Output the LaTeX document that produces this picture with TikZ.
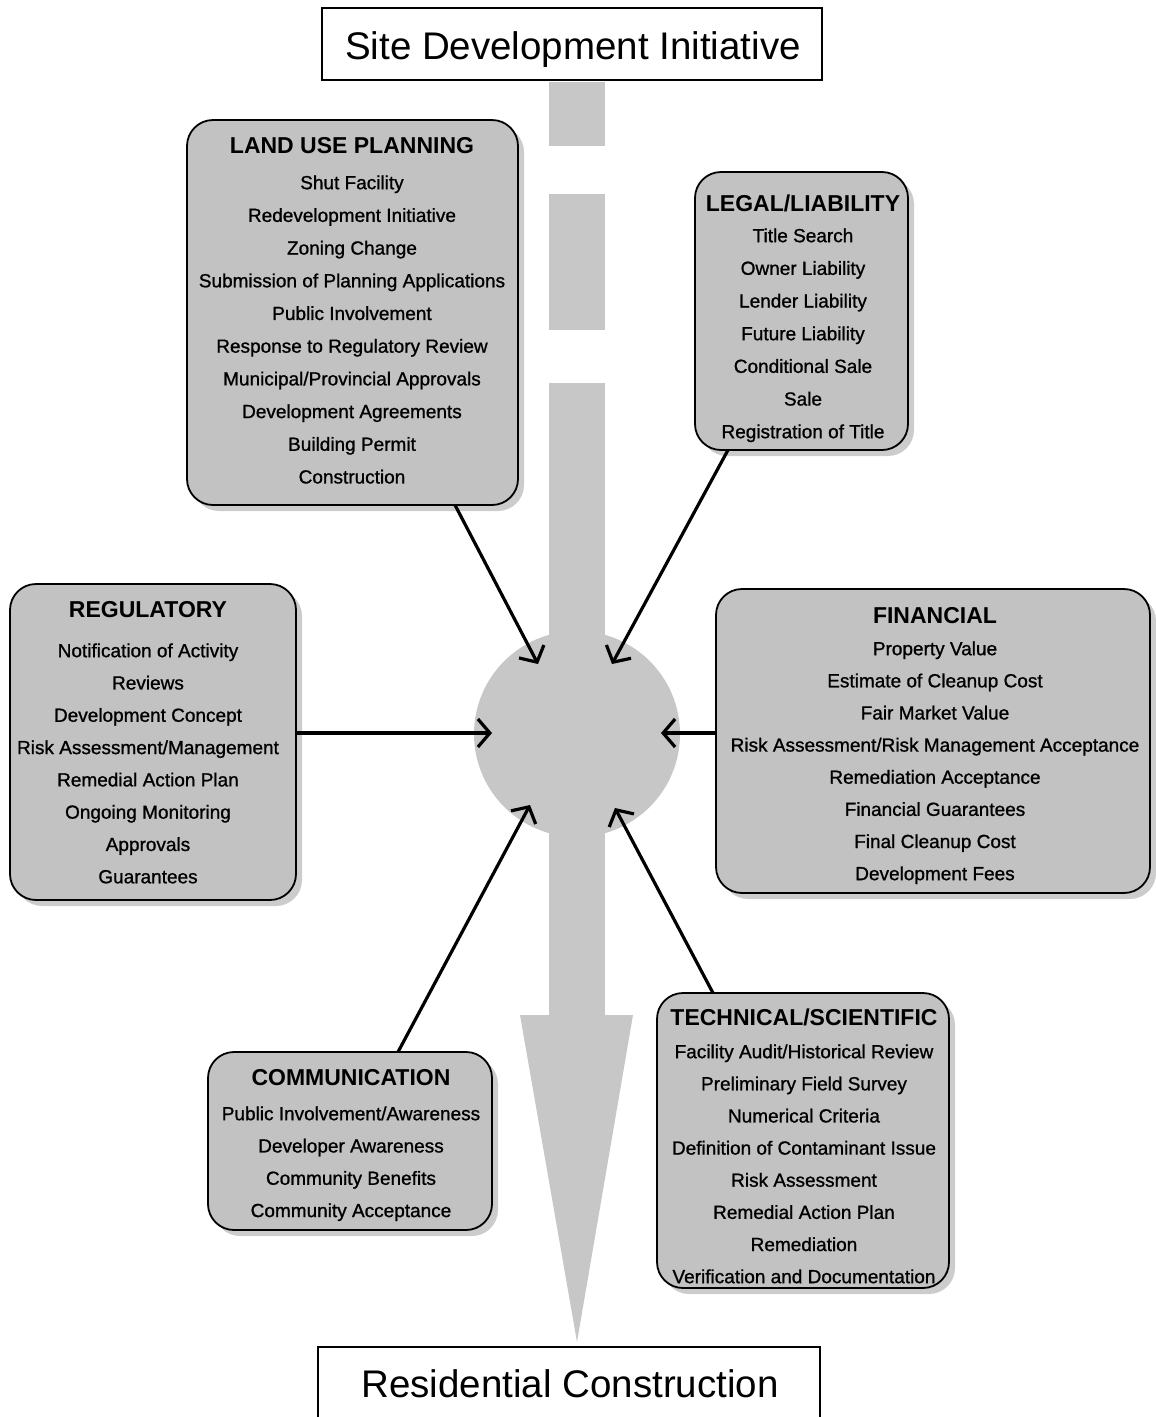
\documentclass[tikz,border=0pt]{standalone}
\usepackage{fontspec}
\setmainfont{Liberation Sans}
\newfontface\itemface{Liberation Sans}[FakeBold=1.0]
\usetikzlibrary{arrows.meta,calc}
\definecolor{boxgray}{gray}{0.76}
\definecolor{shadowgray}{gray}{0.80}
\definecolor{stemgray}{gray}{0.78}
\begin{document}
\begin{tikzpicture}[x=1pt,y=-1pt,
  panel/.style={draw=black,line width=1.8pt,fill=boxgray,rounded corners=26pt,inner sep=0pt},
  shadowbox/.style={fill=shadowgray,rounded corners=26pt},
  endbox/.style={draw=black,line width=2pt,fill=white},
  bigtext/.style={font=\fontsize{38.5}{40}\selectfont,inner sep=0pt,anchor=base},
  paneltitle/.style={font=\bfseries\fontsize{23}{26}\selectfont,inner sep=0pt,anchor=base},
  items/.style={align=center,inner sep=0pt,anchor=north,font=\itemface\fontsize{19}{#1}\selectfont},
  conn/.style={line width=3.2pt,-{Straight Barb[length=12pt,width=28pt]}},
  stemfill/.style={fill=stemgray}
]
\useasboundingbox (0,0) rectangle (1156,1417);

% central stem and hub
\fill[stemfill] (549,82) rectangle (605,146);
\fill[stemfill] (549,194) rectangle (605,330);
\fill[stemfill] (549,383) rectangle (605,1017);
\fill[stemfill] (520,1015) -- (633,1015) -- (577,1342) -- cycle;
\node[circle,fill=stemgray,minimum size=206pt,inner sep=0pt] (hub) at (577,734) {};

% end boxes
\node[endbox,minimum width=500pt,minimum height=72pt] (start) at (572,44) {};
\node[bigtext] (starttext) at (573,59) {Site Development Initiative};
\draw[endbox] (318,1430) |- (820,1347) -- (820,1430);
\node[bigtext] (endtext) at (570,1397) {Residential Construction};

% LAND USE PLANNING
\fill[shadowbox] (193,126) rectangle (524,511);
\node[panel,minimum width=331pt,minimum height=385pt] (land) at (352.5,312.5) {};
\node[paneltitle] (landtitle) at (352,153.2) {LAND USE PLANNING};
\node[items=32.7pt] (landitems) at (352,175.2) {Shut Facility\\Redevelopment Initiative\\Zoning Change\\Submission of Planning Applications\\Public Involvement\\Response to Regulatory Review\\Municipal/Provincial Approvals\\Development Agreements\\Building Permit\\Construction};

% LEGAL/LIABILITY
\fill[shadowbox] (701,178) rectangle (914,456);
\node[panel,minimum width=213pt,minimum height=278pt] (legal) at (801.5,311) {};
\node[paneltitle] (legaltitle) at (803,211.2) {LEGAL/LIABILITY};
\node[items=32.67pt] (legalitems) at (803,228.2) {Title Search\\Owner Liability\\Lender Liability\\Future Liability\\Conditional Sale\\Sale\\Registration of Title};

% REGULATORY
\fill[shadowbox] (16,590) rectangle (302,906);
\node[panel,minimum width=286pt,minimum height=316pt] (reg) at (153,742) {};
\node[paneltitle] (regtitle) at (148,617.2) {REGULATORY};
\node[items=32.3pt] (regitems) at (148,643.2) {Notification of Activity\\Reviews\\Development Concept\\Risk Assessment/Management\\Remedial Action Plan\\Ongoing Monitoring\\Approvals\\Guarantees};

% FINANCIAL
\fill[shadowbox] (722,595) rectangle (1156,899);
\node[panel,minimum width=434pt,minimum height=304pt] (fin) at (933,741) {};
\node[paneltitle] (fintitle) at (935,623.2) {FINANCIAL};
\node[items=32.14pt] (finitems) at (935,641.2) {Property Value\\Estimate of Cleanup Cost\\Fair Market Value\\Risk Assessment/Risk Management Acceptance\\Remediation Acceptance\\Financial Guarantees\\Final Cleanup Cost\\Development Fees};

% COMMUNICATION
\fill[shadowbox] (214,1058) rectangle (498,1236);
\node[panel,minimum width=284pt,minimum height=178pt] (comm) at (350,1141) {};
\node[paneltitle] (commtitle) at (351,1085.2) {COMMUNICATION};
\node[items=32.3pt] (commitems) at (351,1106.2) {Public Involvement/Awareness\\Developer Awareness\\Community Benefits\\Community Acceptance};

% TECHNICAL/SCIENTIFIC
\fill[shadowbox] (663,999) rectangle (955,1294);
\node[panel,minimum width=292pt,minimum height=295pt] (tech) at (803,1140.5) {};
\node[paneltitle] (techtitle) at (804,1025.2) {TECHNICAL/SCIENTIFIC};
\node[items=32.14pt] (techitems) at (804,1044.2) {Facility Audit/Historical Review\\Preliminary Field Survey\\Numerical Criteria\\Definition of Contaminant Issue\\Risk Assessment\\Remedial Action Plan\\Remediation\\Verification and Documentation};

% connector end points
\coordinate (landout) at (455,505);
\coordinate (legalout) at (728,450);
\coordinate (regout) at (reg.east |- 0,733);
\coordinate (finout) at (fin.west |- 0,733);
\coordinate (commout) at (398,1052);
\coordinate (techout) at (713,993);
\coordinate (hubNW) at (538,664);
\coordinate (hubNE) at (612,664);
\coordinate (hubW) at (492,733);
\coordinate (hubE) at (661,733);
\coordinate (hubSW) at (530,805);
\coordinate (hubSE) at (615,808);

\draw[conn] (landout) -- (hubNW);
\draw[conn] (legalout) -- (hubNE);
\draw[conn] (regout) -- (hubW);
\draw[conn] (finout) -- (hubE);
\draw[conn] (commout) -- (hubSW);
\draw[conn] (techout) -- (hubSE);
\end{tikzpicture}
\end{document}
